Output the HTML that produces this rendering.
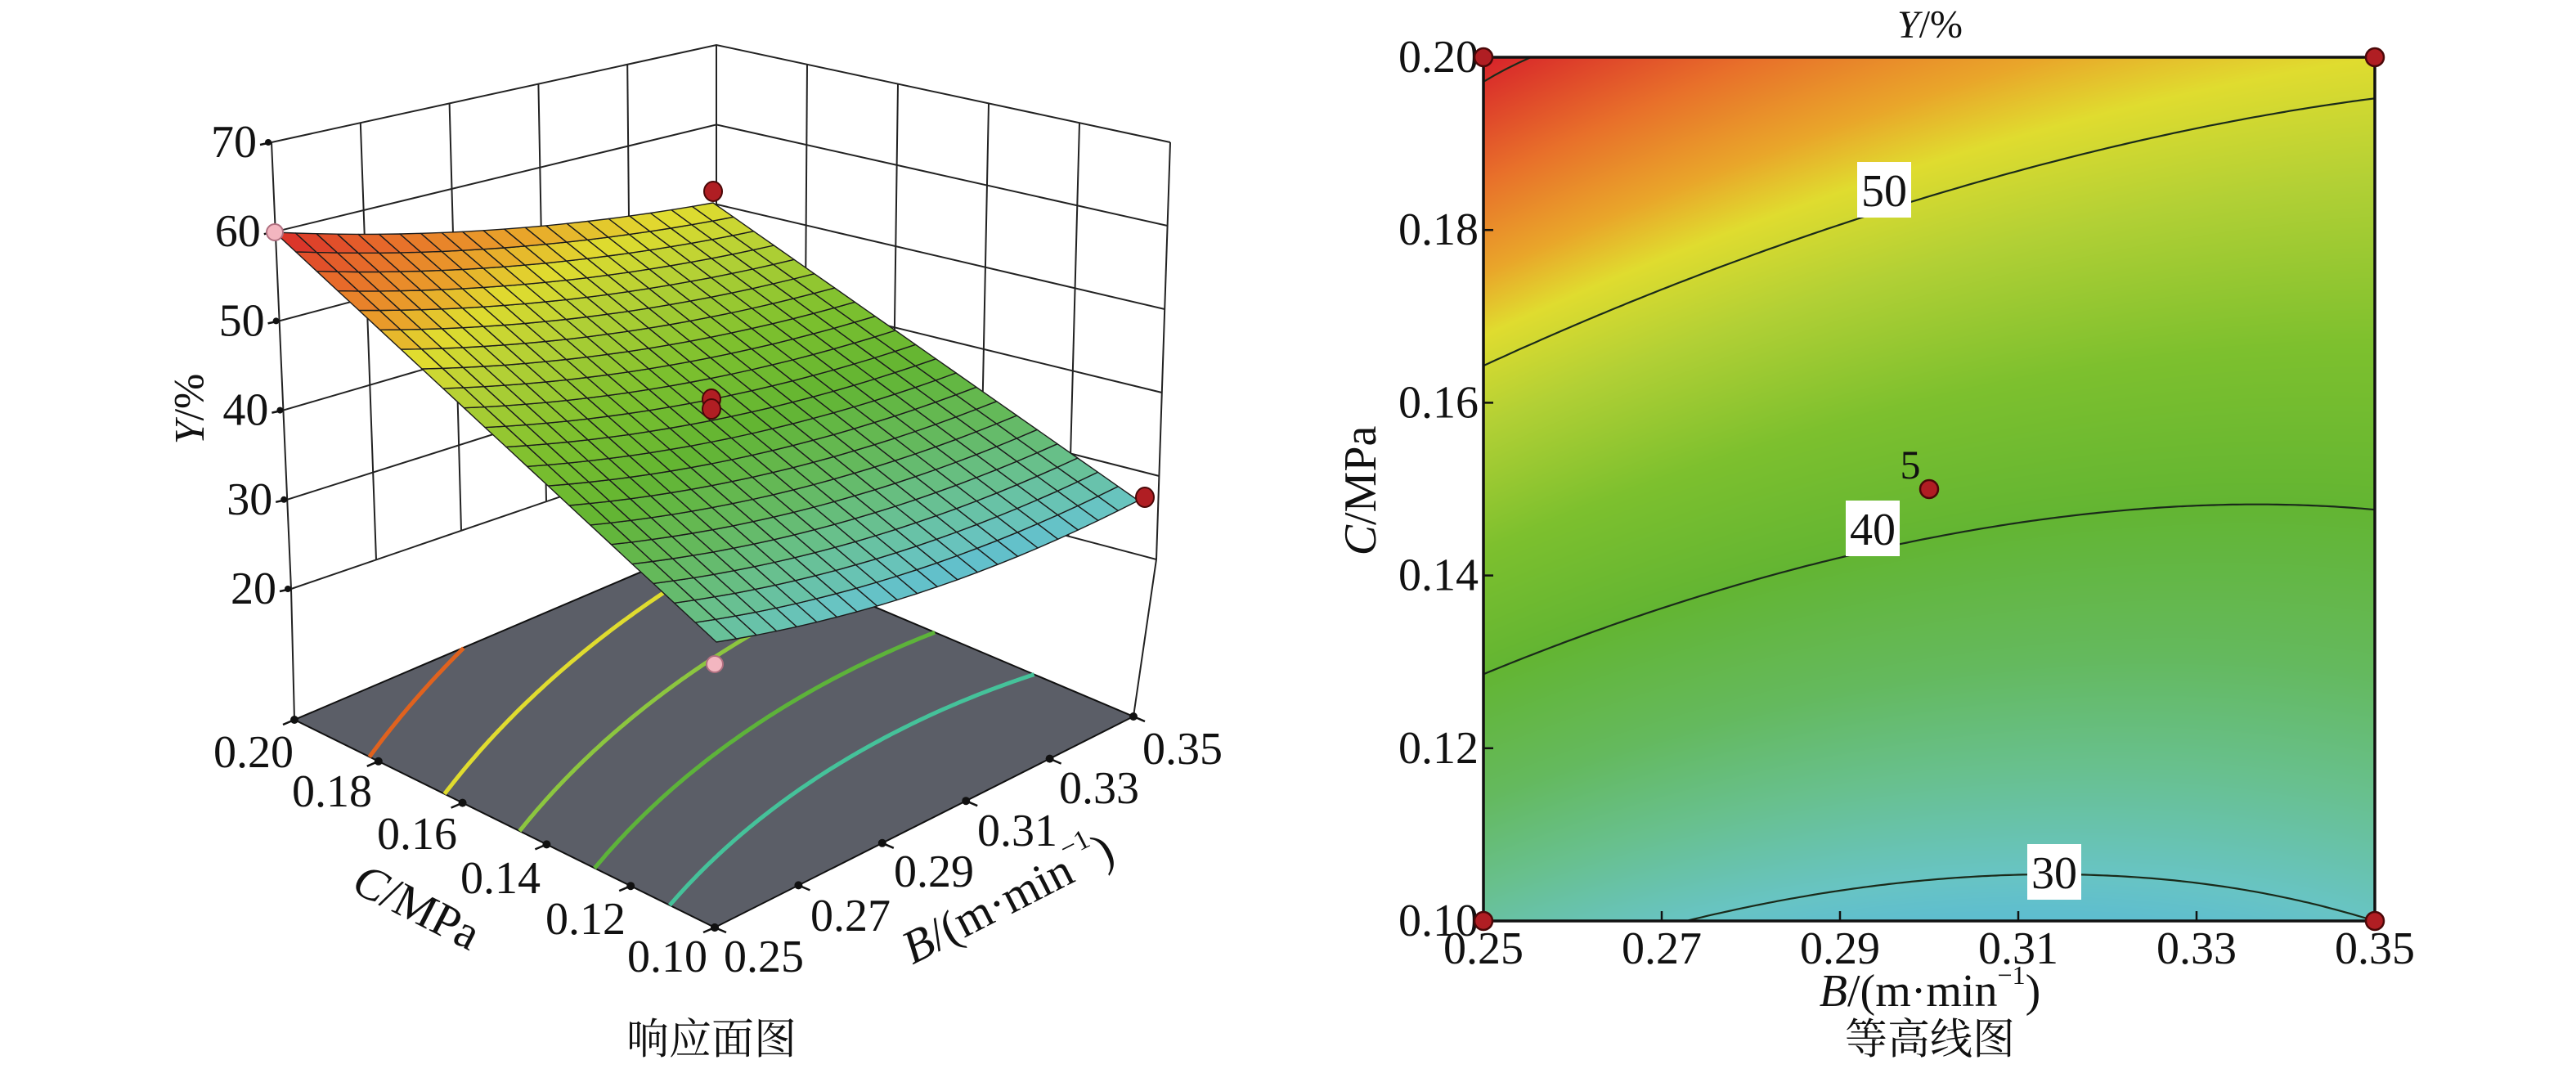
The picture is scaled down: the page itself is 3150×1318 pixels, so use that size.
<!DOCTYPE html>
<html><head><meta charset="utf-8"><style>
html,body{margin:0;padding:0;background:#fff;}
#wrap{position:relative;width:3150px;height:1318px;overflow:hidden;background:#fff;}
#cv{position:absolute;left:1814px;top:70px;}
svg{position:absolute;left:0;top:0;}
svg text{font-family:"Liberation Serif","Times New Roman","Noto Serif CJK SC",serif;fill:#111;}
</style></head><body>
<div id="wrap">
<canvas id="cv" width="1090" height="1056"></canvas>
<svg id="s" width="3150" height="1318" xmlns="http://www.w3.org/2000/svg" font-family="Liberation Serif, Noto Serif CJK SC, serif"></svg>
</div>
<script>
const NS="http://www.w3.org/2000/svg";const S=document.getElementById('s');
const FF_="Liberation Serif, Noto Serif CJK SC, serif";
function el(t,a,p){const e=document.createElementNS(NS,t);for(const k in a)e.setAttribute(k,a[k]);(p||S).appendChild(e);return e;}
function txt(x,y,s,size,extra){const e=el('text',Object.assign({x:x,y:y,'font-size':size,'font-family':FF_,'text-anchor':'middle','dominant-baseline':'central'},extra||{}));e.innerHTML=s;return e;}
function rtxt(x,y,rot,s,size){const e=el('text',{x:0,y:0,'font-size':size,'font-family':FF_,'text-anchor':'middle','dominant-baseline':'central',transform:'translate('+x+','+y+') rotate('+rot+')'});e.innerHTML=s;return e;}
function v(u,w){return 32-2*u+(28-7*u)*w-2.2*4*u*(1-u)*(1-0.35*w);}
const stops=[[25,[70,170,225]],[27,[79,180,224]],[30,[104,196,196]],[33,[104,192,142]],[36,[100,185,94]],[40,[99,181,50]],[44,[125,192,46]],[48,[178,208,53]],[51,[224,220,47]],[53,[233,166,42]],[56,[232,112,42]],[60,[215,34,42]],[65,[200,20,30]]];
function col(val){if(val<=stops[0][0])return stops[0][1];for(let i=1;i<stops.length;i++){if(val<=stops[i][0]){const a=stops[i-1],b=stops[i],t=(val-a[0])/(b[0]-a[0]);return a[1].map((c,k)=>Math.round(c+(b[1][k]-c)*t));}}return stops[stops.length-1][1];}
function rgb(c){return 'rgb('+c[0]+','+c[1]+','+c[2]+')';}
const cv=document.getElementById('cv');const ctx=cv.getContext('2d');const W=1090,H=1056;const img=ctx.createImageData(W,H);
for(let y=0;y<H;y++){const w=1-y/(H-1);for(let x=0;x<W;x++){const u=x/(W-1);const c=col(v(u,w));const i=(y*W+x)*4;img.data[i]=c[0];img.data[i+1]=c[1];img.data[i+2]=c[2];img.data[i+3]=255;}}
ctx.putImageData(img,0,0);
function solveW(u,L){let a=0,b=1;if(v(u,0)>L||v(u,1)<L)return null;for(let i=0;i<40;i++){const m=(a+b)/2;if(v(u,m)<L)a=m;else b=m;}return (a+b)/2;}
const PX0=1814,PY0=70,PW=1090,PH=1056;
[30,40,50,60].forEach(L=>{let d='',pen=false;for(let i=0;i<=200;i++){const u=i/200;const w=solveW(u,L);if(w===null){pen=false;continue;}const x=PX0+u*PW,y=PY0+(1-w)*PH;d+=(pen?'L':'M')+x.toFixed(1)+','+y.toFixed(1);pen=true;}
 if(L==60){d='M1814,100 Q1840,84 1872,70';}
 el('path',{d:d,fill:'none',stroke:'#1a2a1a','stroke-width':2.2});});
el('rect',{x:PX0,y:PY0,width:PW,height:PH,fill:'none',stroke:'#111','stroke-width':3.5});
[[2304,232,'50'],[2290,646,'40'],[2512,1066,'30']].forEach(a=>{el('rect',{x:a[0]-33,y:a[1]-34,width:66,height:68,fill:'#fff'});txt(a[0],a[1]+2,a[2],56);});
for(let i=0;i<=5;i++){const x=PX0+i*PW/5;el('line',{x1:x,y1:PY0+PH,x2:x,y2:PY0+PH-12,stroke:'#111','stroke-width':2.5});txt(x,1160,(0.25+i*0.02).toFixed(2),56);
 const y=PY0+i*PH/5;el('line',{x1:PX0,y1:y,x2:PX0+12,y2:y,stroke:'#111','stroke-width':2.5});txt(1808,y,(0.20-i*0.02).toFixed(2),56,{'text-anchor':'end'});}
[[PX0,PY0],[PX0+PW,PY0],[PX0,PY0+PH],[PX0+PW,PY0+PH],[2359,598]].forEach(p=>el('circle',{cx:p[0],cy:p[1],r:11,fill:'#b01e23',stroke:'#4a0808','stroke-width':2.5}));
txt(2336,568,'5',50);
txt(2360,30,'<tspan font-style="italic">Y</tspan>/%',48);
txt(2360,1212,'<tspan font-style="italic">B</tspan>/(m·min<tspan font-size="32" dy="-20">−1</tspan><tspan dy="20">)</tspan>',56);
txt(2360,1272,'等高线图',52);
rtxt(1664,600,-90,'<tspan font-style="italic">C</tspan>/MPa',56);
function lerp(a,b,t){return [a[0]+(b[0]-a[0])*t,a[1]+(b[1]-a[1])*t];}
const lvl=[20,30,40,50,60,70];
function leftAx(z){return [356-(z-20)*0.48,720-(z-20)*10.92];}
function backAx(z){return [876,542-(z-20)*9.74];}
function rightAx(z){return [1414+(z-20)*0.34,684-(z-20)*10.2];}
const LS={stroke:'#222','stroke-width':2,fill:'none'};
const FL=[360,880],FK=[876,660],FR=[1386,876],FF=[874,1134];
el('polygon',{points:[FL,FF,FR,FK].map(p=>p.join(',')).join(' '),fill:'#5b5e67',stroke:'#111','stroke-width':2});
function floorPt(u,w){return [(1-u)*(1-w)*FF[0]+u*(1-w)*FR[0]+u*w*FK[0]+(1-u)*w*FL[0],(1-u)*(1-w)*FF[1]+u*(1-w)*FR[1]+u*w*FK[1]+(1-u)*w*FL[1]];}
[[55,'#e0621e'],[50,'#e0dc2f'],[45,'#8cc63f'],[40,'#5db33a'],[35,'#45c29a']].forEach(a=>{let d='',pen=false;for(let i=0;i<=120;i++){const u=i/120;const w=solveW(u,a[0]);if(w===null){pen=false;continue;}const p=floorPt(u,w);d+=(pen?'L':'M')+p[0].toFixed(1)+','+p[1].toFixed(1);pen=true;}el('path',{d:d,fill:'none',stroke:a[1],'stroke-width':5});});
lvl.forEach(z=>{const a=leftAx(z),b=backAx(z),c=rightAx(z);el('polyline',Object.assign({points:a.join(',')+' '+b.join(',')+' '+c.join(',')},LS));});
for(let i=0;i<=5;i++){const t=i/5;let p=lerp(leftAx(70),backAx(70),t),q=lerp(leftAx(20),backAx(20),t);el('line',Object.assign({x1:p[0],y1:p[1],x2:q[0],y2:q[1]},LS));
 p=lerp(backAx(70),rightAx(70),t);q=lerp(backAx(20),rightAx(20),t);el('line',Object.assign({x1:p[0],y1:p[1],x2:q[0],y2:q[1]},LS));}
el('line',Object.assign({x1:356,y1:720,x2:FL[0],y2:FL[1]},LS));
el('line',Object.assign({x1:876,y1:542,x2:FK[0],y2:FK[1]},LS));
el('line',Object.assign({x1:1414,y1:684,x2:FR[0],y2:FR[1]},LS));
[20,30,40,50,60,70].forEach(z=>{const p=leftAx(z);el('line',{x1:p[0],y1:p[1],x2:p[0]-14,y2:p[1]+3,stroke:'#111','stroke-width':2.5});el('circle',{cx:p[0]-4,cy:p[1],r:4,fill:'#111'});txt(p[0]-18,p[1],String(z),56,{'text-anchor':'end'});});
for(let i=0;i<=5;i++){const t=i/5;const p=lerp(FL,FF,t);el('circle',{cx:p[0],cy:p[1],r:5,fill:'#111'});el('line',{x1:p[0],y1:p[1],x2:p[0]-14,y2:p[1]+6,stroke:'#111','stroke-width':2.5});
 const q=lerp(FF,FR,t);el('circle',{cx:q[0],cy:q[1],r:5,fill:'#111'});el('line',{x1:q[0],y1:q[1],x2:q[0]+14,y2:q[1]+6,stroke:'#111','stroke-width':2.5});}
[[310,920],[406,968],[510,1020],[612,1074],[716,1124],[816,1170]].forEach((p,i)=>txt(p[0],p[1],(0.20-i*0.02).toFixed(2),56));
[[934,1170],[1040,1120],[1142,1066],[1244,1016],[1344,964],[1446,916]].forEach((p,i)=>txt(p[0],p[1],(0.25+i*0.02).toFixed(2),56));
rtxt(510,1108,27,'<tspan font-style="italic">C</tspan>/MPa',58);
rtxt(1232,1098,-27,'<tspan font-style="italic">B</tspan>/(m·min<tspan font-size="34" dy="-22">−1</tspan><tspan dy="22">)</tspan>',58);
rtxt(232,500,-90,'<tspan font-style="italic">Y</tspan>/%',52);
txt(870,1272,'响应面图',52);
const SL=[336,284,60],SK=[872,248,51],SR=[1392,612,30],SF=[876,785,32];
function surfPt(u,w){const f=(k)=>(1-u)*(1-w)*SF[k]+u*(1-w)*SR[k]+u*w*SK[k]+(1-u)*w*SL[k];return [f(0),f(1)+(f(2)-v(u,w))*10.5];}
const N=21;const g=el('g',{});
for(let i=0;i<N;i++)for(let j=0;j<N;j++){const u0=i/N,u1=(i+1)/N,w0=j/N,w1=(j+1)/N;const pts=[surfPt(u0,w0),surfPt(u1,w0),surfPt(u1,w1),surfPt(u0,w1)];
 el('polygon',{points:pts.map(p=>p[0].toFixed(1)+','+p[1].toFixed(1)).join(' '),fill:rgb(col(v((u0+u1)/2,(w0+w1)/2))),stroke:'#1c1c1c','stroke-width':1.4,'stroke-linejoin':'round'},g);}
[[336,284,'#f3b6c0'],[874,812,'#f3b6c0']].forEach(p=>el('circle',{cx:p[0],cy:p[1],r:10,fill:p[2],stroke:'#b07080','stroke-width':2}));
[[872,234],[870,488],[870,500],[1400,608]].forEach(p=>el('ellipse',{cx:p[0],cy:p[1],rx:11,ry:12,fill:'#b01e23',stroke:'#4a0808','stroke-width':2}));
</script>
</body></html>
